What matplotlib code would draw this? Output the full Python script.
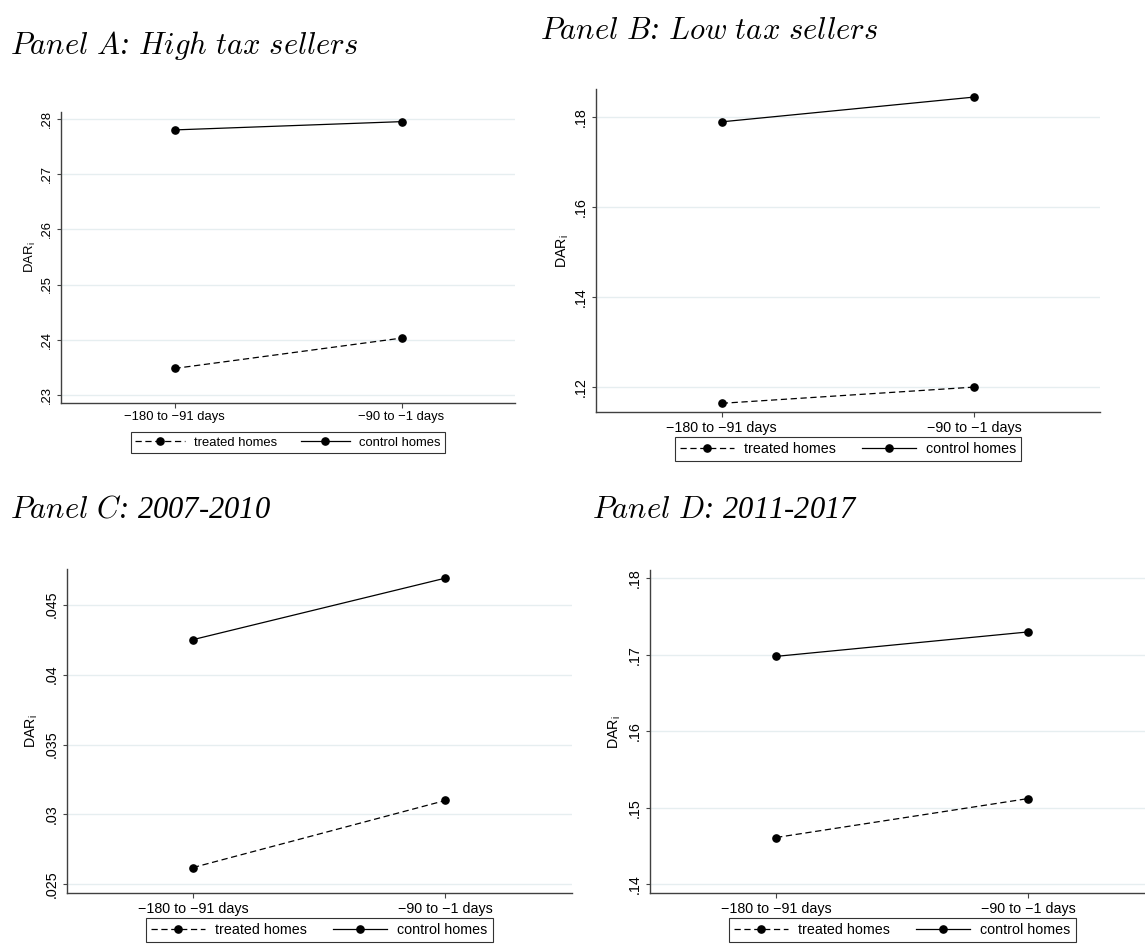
import matplotlib
matplotlib.use('Agg')
import matplotlib.pyplot as plt
from matplotlib.ticker import FuncFormatter

# Data
periods = ['\u2212180 to \u221291 days', '\u221290 to \u22121 days']

treated_a = [0.2348, 0.2403]
control_a = [0.2780, 0.2795]
ticks_a = [0.23, 0.24, 0.25, 0.26, 0.27, 0.28]

treated_b = [0.1164, 0.1200]
control_b = [0.1790, 0.1845]
ticks_b = [0.12, 0.14, 0.16, 0.18]

treated_c = [0.0262, 0.0310]
control_c = [0.0425, 0.0469]
ticks_c = [0.025, 0.03, 0.035, 0.04, 0.045]

treated_d = [0.1461, 0.1512]
control_d = [0.1698, 0.1730]
ticks_d = [0.14, 0.15, 0.16, 0.17, 0.18]

W, H = 1145, 951


def stata_fmt(v, pos):
    s = '%g' % round(v, 4)
    return s[1:] if s.startswith('0.') else s


def math_title(text):
    s = text.replace(' ', r'\ ').replace(':', r'\text{:}').replace('-', r'\text{-}')
    return r'$\mathit{' + s + '}$'


def draw_panel(fig, box, treated, control, yticks, ylim, fs, legend_gap, ylab_off):
    # box = (left, top, right, bottom) in pixels
    left, top, right, bottom = box
    ax = fig.add_axes([left / W, 1 - bottom / H, (right - left) / W, (bottom - top) / H])
    x = list(range(1, len(periods) + 1))

    ax.plot(x, treated, color='black', lw=0.9, ls=(0, (4.5, 2.6)), marker='o', ms=5.2,
            label='treated homes')
    ax.plot(x, control, color='black', lw=0.9, ls='-', marker='o', ms=5.2,
            label='control homes')

    ax.set_xlim(0.5, len(periods) + 0.5)
    ax.set_ylim(*ylim)
    ax.set_xticks(x)
    ax.set_xticklabels(periods, fontsize=fs)
    ax.set_yticks(yticks)
    ax.yaxis.set_major_formatter(FuncFormatter(stata_fmt))
    ax.tick_params(axis='y', labelrotation=90, labelsize=fs, length=3, width=0.8,
                   color='#444444', pad=3)
    ax.tick_params(axis='x', length=3.5, width=0.8, color='#444444', pad=2.5)
    for lbl in ax.get_yticklabels():
        lbl.set_va('center')

    ax.grid(axis='y', color='#E6EEF0', lw=1.0)
    ax.set_axisbelow(True)
    for side in ['top', 'right']:
        ax.spines[side].set_visible(False)
    for side in ['left', 'bottom']:
        ax.spines[side].set_color('#404040')
        ax.spines[side].set_linewidth(1.0)

    ax.set_ylabel(r'DAR$_{\mathsf{i}}$', fontsize=fs, va='center')
    ax.yaxis.set_label_coords(-ylab_off / (right - left), 0.5)

    leg = ax.legend(loc='upper center', bbox_to_anchor=(0.5, -legend_gap / (bottom - top)),
                    ncol=2, fontsize=fs, numpoints=1, handlelength=3.8, handletextpad=0.7,
                    columnspacing=1.8, borderpad=0.35, borderaxespad=0, fancybox=False,
                    frameon=True)
    leg.get_frame().set_edgecolor('black')
    leg.get_frame().set_linewidth(0.8)
    return ax


def main():
    plt.rcParams['font.family'] = 'Liberation Sans'
    plt.rcParams['mathtext.fontset'] = 'custom'
    plt.rcParams['mathtext.it'] = 'cmmi10'
    plt.rcParams['mathtext.rm'] = 'Liberation Serif:italic'
    plt.rcParams['mathtext.sf'] = 'Liberation Sans'
    plt.rcParams['lines.scale_dashes'] = False

    fig = plt.figure(figsize=(W / 100, H / 100), dpi=100)

    draw_panel(fig, (61, 111.7, 515, 402.7), treated_a, control_a, ticks_a,
               (0.2286, 0.2813), 9.4, 29.3, 31)
    draw_panel(fig, (595.7, 89, 1100, 412.3), treated_b, control_b, ticks_b,
               (0.1144, 0.1863), 10.3, 24.4, 33)
    draw_panel(fig, (66.7, 569.3, 571.7, 893.3), treated_c, control_c, ticks_c,
               (0.02436, 0.04753), 10.3, 24.4, 35)
    draw_panel(fig, (650, 570, 1154.5, 893.3), treated_d, control_d, ticks_d,
               (0.1388, 0.1811), 10.3, 24.4, 35)

    # Panel titles
    titles = [('Panel A: High tax sellers', 10.5, 54),
              ('Panel B: Low tax sellers', 540, 39),
              ('Panel C: 2007-2010', 10.5, 517),
              ('Panel D: 2011-2017', 591.5, 518)]
    for text, tx, ty in titles:
        fig.text(tx / W, 1 - ty / H, math_title(text), fontsize=22, ha='left', va='baseline')

    fig.savefig('out.png', dpi=100, facecolor='white')


if __name__ == '__main__':
    main()
